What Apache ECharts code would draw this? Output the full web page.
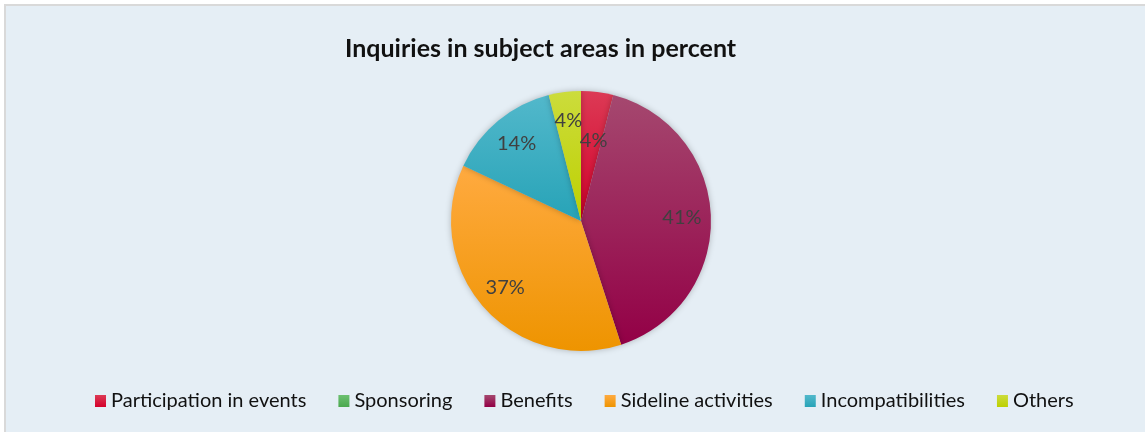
<!DOCTYPE html>
<html>
<head>
<meta charset="utf-8">
<script src="https://cdn.jsdelivr.net/npm/echarts@6/dist/echarts.min.js"></script>
<style>
html,body{margin:0;padding:0;background:#fff;}
#chart{width:1145px;height:432px;}
</style>
</head>
<body>
<div id="chart"></div>
<script>
const titleText = 'Inquiries in subject areas in percent';
const categories = ['Participation in events', 'Sponsoring', 'Benefits', 'Sideline activities', 'Incompatibilities', 'Others'];
const values = [4, 0, 41, 37, 14, 4];
const topColors = ['#dc3a55', '#6cc070', '#a5486f', '#ffaa40', '#52b8cb', '#ccdc3c'];
const bottomColors = ['#d4002b', '#4aa84e', '#930046', '#ee9400', '#27a3b7', '#bdd000'];

function grad(i) {
  return new echarts.graphic.LinearGradient(0, 0, 0, 1, [
    { offset: 0, color: topColors[i] },
    { offset: 1, color: bottomColors[i] }
  ]);
}

const pieData = categories.map((c, i) => ({ name: c, value: values[i], itemStyle: { color: grad(i) } }));
const labelData = categories.map((c, i) => ({ name: c, value: values[i], label: { show: values[i] > 0 } }));

const chart = echarts.init(document.getElementById('chart'));
chart.setOption({
  backgroundColor: '#ffffff',
  animation: false,
  graphic: [{
    type: 'rect', z: -10, silent: true,
    shape: { x: 5, y: 5, width: 1160, height: 450 },
    style: { fill: '#e5eef5', stroke: '#d9d9d9', lineWidth: 2 }
  }],
  title: {
    text: titleText,
    left: 340, top: 31,
    textStyle: { fontFamily: 'Lato', fontWeight: 'bold', fontSize: 25, color: '#111111' }
  },
  legend: {
    data: categories,
    left: 90, top: 386,
    itemWidth: 11, itemHeight: 12, itemGap: 32,
    icon: 'rect',
    textStyle: { fontFamily: 'Lato', fontSize: 20, color: '#111111' }
  },
  series: [{
    type: 'pie',
    center: [581, 221],
    radius: [0, 130],
    startAngle: 90,
    clockwise: true,
    avoidLabelOverlap: false,
    silent: true,
    label: { show: false },
    labelLine: { show: false },
    itemStyle: { borderWidth: 0, shadowBlur: 6, shadowColor: 'rgba(0,0,0,0.25)' },
    data: pieData
  }, {
    type: 'pie',
    center: [581, 221],
    radius: [66, 130],
    startAngle: 90,
    clockwise: true,
    avoidLabelOverlap: false,
    silent: true,
    z: 5,
    itemStyle: { color: 'rgba(0,0,0,0)', borderWidth: 0 },
    label: {
      show: true, position: 'inside', overflow: 'none',
      fontFamily: 'Lato', fontSize: 20, color: '#404040',
      formatter: p => p.value + '%'
    },
    labelLine: { show: false },
    labelLayout: p => (values[p.dataIndex] < 10
      ? { hideOverlap: false, moveOverlap: 'shiftY' }
      : { hideOverlap: false }),
    data: labelData
  }]
});
</script>
</body>
</html>
